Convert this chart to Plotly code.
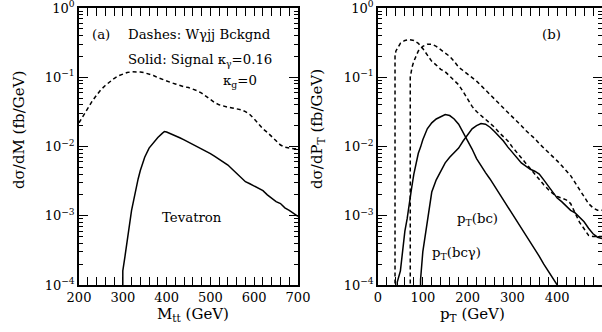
import plotly.graph_objects as go

# ---------------- data ----------------
# Panel (a): invariant mass M_tt (GeV)
m_bkg_x = [200, 210, 220, 230, 240, 250, 260, 270, 280, 290, 300, 310, 320, 330, 340, 350,
           360, 370, 380, 390, 400, 410, 420, 430, 440, 450, 460, 470, 480, 490, 500, 510,
           520, 530, 540, 550, 560, 570, 580, 590, 600, 610, 620, 630, 640, 650, 660, 670,
           680, 690, 700]
m_bkg = [0.022, 0.028, 0.036, 0.045, 0.055, 0.066, 0.076, 0.086, 0.096, 0.105, 0.112, 0.117,
         0.120, 0.121, 0.119, 0.116, 0.112, 0.106, 0.099, 0.093, 0.088, 0.084, 0.080, 0.076,
         0.073, 0.071, 0.068, 0.064, 0.059, 0.053, 0.048, 0.043, 0.040, 0.038, 0.037, 0.036,
         0.035, 0.034, 0.032, 0.029, 0.025, 0.021, 0.018, 0.016, 0.014, 0.012, 0.0105, 0.0098,
         0.0095, 0.0093, 0.0093]

m_sig_x = [300, 300, 305, 310, 315, 320, 325, 330, 335, 340, 345, 350, 360, 370, 380, 390, 395,
           400, 410, 420, 430, 440, 450, 460, 470, 480, 490, 500, 510, 520, 530, 540, 550, 560,
           570, 580, 590, 600, 610, 620, 630, 640, 650, 660, 670, 680, 690, 700]
m_sig = [1e-6, 1.6e-4, 2.6e-4, 4.5e-4, 7e-4, 1.2e-3, 1.7e-3, 2.5e-3, 3.4e-3, 4.5e-3, 5.7e-3,
         7.0e-3, 9.5e-3, 0.0115, 0.0135, 0.0155, 0.0165, 0.0162, 0.0153, 0.0144, 0.0134,
         0.0125, 0.0116, 0.0107, 0.0100, 0.0093, 0.0086, 0.0079, 0.0072, 0.0066, 0.0060,
         0.0054, 0.0047, 0.0041, 0.0035, 0.0031, 0.0029, 0.0027, 0.0025, 0.0023, 0.0020,
         0.0018, 0.0016, 0.0015, 0.0013, 0.0012, 0.00108, 0.00098]

# Panel (b): transverse momentum p_T (GeV)
pt_bkg1_x = [38, 38, 40, 45, 50, 60, 70, 80, 90, 100, 110, 120, 130, 140, 150, 160, 170, 180,
             190, 200, 210, 220, 230, 240, 250, 260, 270, 280, 290, 300, 310, 320, 330, 340,
             350, 360, 370, 380, 390, 400, 410, 420, 430, 440, 450, 460, 470, 480, 490, 500]
pt_bkg1 = [1e-6, 0.20, 0.24, 0.28, 0.31, 0.34, 0.35, 0.34, 0.31, 0.26, 0.21, 0.17, 0.15, 0.13,
           0.12, 0.105, 0.090, 0.078, 0.062, 0.048, 0.038, 0.032, 0.028, 0.025, 0.022, 0.019,
           0.016, 0.014, 0.012, 0.0098, 0.0082, 0.0068, 0.0056, 0.0047, 0.0040, 0.0033,
           0.0028, 0.0024, 0.0021, 0.0019, 0.0018, 0.0017, 0.0015, 0.0011, 0.0008, 0.00065,
           0.00052, 0.0005, 0.0005, 0.0005]

pt_bkg2_x = [72, 72, 76, 80, 90, 100, 110, 120, 130, 140, 150, 160, 170, 180, 190, 200, 210,
             220, 230, 240, 250, 260, 270, 280, 290, 300, 310, 320, 330, 340, 350, 360, 370,
             380, 390, 400, 410, 420, 430, 440, 450, 460, 470, 480, 490, 500]
pt_bkg2 = [1e-6, 0.10, 0.14, 0.17, 0.24, 0.28, 0.30, 0.30, 0.28, 0.25, 0.23, 0.20, 0.17, 0.14,
           0.125, 0.112, 0.10, 0.088, 0.076, 0.065, 0.056, 0.048, 0.042, 0.036, 0.031, 0.027,
           0.023, 0.020, 0.017, 0.015, 0.013, 0.011, 0.0096, 0.0083, 0.0072, 0.0062, 0.0053,
           0.0045, 0.0038, 0.0030, 0.0024, 0.0019, 0.0015, 0.0013, 0.0012, 0.0012]

pt_bc_x = [43, 43, 50, 55, 60, 65, 70, 75, 80, 85, 90, 95, 100, 110, 120, 130, 140, 150, 160,
           170, 180, 190, 200, 210, 220, 230, 240, 250, 260, 270, 280, 290, 300, 310, 320,
           330, 340, 350, 360, 370, 380, 390, 400]
pt_bc = [1e-6, 1.1e-4, 1.6e-4, 3e-4, 6e-4, 9e-4, 1.6e-3, 2.5e-3, 4e-3, 5.5e-3, 8e-3, 0.0098,
         0.0125, 0.018, 0.022, 0.025, 0.027, 0.029, 0.028, 0.025, 0.021, 0.016, 0.012, 0.0092,
         0.0067, 0.0052, 0.0042, 0.0034, 0.0027, 0.0021, 0.0017, 0.0013, 0.00105, 0.00083,
         0.00066, 0.00052, 0.00042, 0.00033, 0.00026, 0.00020, 0.00016, 0.000125, 1e-4]

pt_bcg_x = [95, 95, 100, 105, 110, 115, 120, 130, 140, 150, 160, 170, 180, 190, 200, 210, 220,
            230, 240, 250, 260, 270, 280, 290, 300, 310, 320, 330, 340, 350, 360, 370, 380,
            390, 400, 410, 420, 430, 440, 450, 460, 470, 480, 490, 500]
pt_bcg = [1e-6, 1.2e-4, 3e-4, 5e-4, 8e-4, 1.4e-3, 2.2e-3, 3.3e-3, 4.5e-3, 5.8e-3, 7e-3, 8.3e-3,
          0.0095, 0.012, 0.015, 0.018, 0.020, 0.0215, 0.021, 0.019, 0.0165, 0.014, 0.012,
          0.0098, 0.0082, 0.0070, 0.0058, 0.0052, 0.0047, 0.0044, 0.0040, 0.0033, 0.0027,
          0.0022, 0.0018, 0.0016, 0.0014, 0.0012, 0.0011, 0.00095, 0.00082, 0.00066, 0.00055,
          0.00049, 0.00047]

ytick_vals = [1e-4, 1e-3, 1e-2, 1e-1, 1]
ytick_text = ["10<sup>\u22124</sup>", "10<sup>\u22123</sup>", "10<sup>\u22122</sup>",
              "10<sup>\u22121</sup>", "10<sup>0</sup>"]
minor_log = [m * 10 ** e for e in range(-4, 0) for m in range(2, 10)]

# ---------------- figure ----------------
W, H = 602, 332
FONT = "DejaVu Serif"
fig = go.Figure()

dash_style = dict(color="black", width=1.5, dash="4px,3px")
solid_style = dict(color="black", width=1.5)

fig.add_trace(go.Scatter(x=m_bkg_x, y=m_bkg, mode="lines", line=dash_style, xaxis="x", yaxis="y"))
fig.add_trace(go.Scatter(x=m_sig_x, y=m_sig, mode="lines", line=solid_style, xaxis="x", yaxis="y"))
fig.add_trace(go.Scatter(x=pt_bkg1_x, y=pt_bkg1, mode="lines", line=dash_style, xaxis="x2", yaxis="y2"))
fig.add_trace(go.Scatter(x=pt_bkg2_x, y=pt_bkg2, mode="lines", line=dash_style, xaxis="x2", yaxis="y2"))
fig.add_trace(go.Scatter(x=pt_bc_x, y=pt_bc, mode="lines", line=solid_style, xaxis="x2", yaxis="y2"))
fig.add_trace(go.Scatter(x=pt_bcg_x, y=pt_bcg, mode="lines", line=solid_style, xaxis="x2", yaxis="y2"))
# invisible carriers for the minor-tick overlay axes
fig.add_trace(go.Scatter(x=m_bkg_x, y=m_bkg, mode="lines", line=dict(color="rgba(0,0,0,0)"),
                         xaxis="x", yaxis="y3", hoverinfo="skip"))
fig.add_trace(go.Scatter(x=pt_bkg1_x, y=pt_bkg1, mode="lines", line=dict(color="rgba(0,0,0,0)"),
                         xaxis="x2", yaxis="y4", hoverinfo="skip"))


def px(x):
    return x / W


def py(y):
    return 1 - y / H


YR = [-4, 0.0005]
common_x = dict(showline=True, linecolor="black", linewidth=1.5, mirror="allticks",
                ticks="inside", ticklen=8, tickwidth=1.3, tickcolor="black",
                showgrid=False, zeroline=False, ticklabeloverflow="allow", automargin=False,
                tickfont=dict(family=FONT, size=13, color="black"),
                minor=dict(ticks="inside", ticklen=4, tickwidth=1, tickcolor="black",
                           dtick=20, showgrid=False))
common_y = dict(type="log", range=YR, showline=True, linecolor="black", linewidth=1.5,
                mirror="allticks", ticks="inside", ticklen=9, tickwidth=1.3,
                tickcolor="black", showgrid=False, zeroline=False,
                tickmode="array", tickvals=ytick_vals, ticktext=ytick_text,
                ticklabeloverflow="allow", automargin=False,
                tickfont=dict(family=FONT, size=13, color="black"))
minor_y = dict(type="log", range=YR, showline=False, mirror="allticks", ticks="inside",
               ticklen=4, tickwidth=1, tickcolor="black", showgrid=False, zeroline=False,
               tickmode="array", tickvals=minor_log, showticklabels=False, automargin=False)

yd = [py(285), py(8)]
fig.update_layout(
    width=W, height=H, margin=dict(l=0, r=0, t=0, b=0, autoexpand=False),
    paper_bgcolor="white", plot_bgcolor="white", showlegend=False,
    xaxis=dict(domain=[px(79), px(298)], range=[200, 700], anchor="y",
               tickvals=[200, 300, 400, 500, 600, 700], **common_x),
    yaxis=dict(domain=yd, anchor="x", **common_y),
    yaxis3=dict(domain=yd, anchor="x", overlaying="y", **minor_y),
    xaxis2=dict(domain=[px(378), 1.0], range=[0, 500], anchor="y2",
                tickvals=[0, 100, 200, 300, 400], **common_x),
    yaxis2=dict(domain=yd, anchor="x2", **common_y),
    yaxis4=dict(domain=yd, anchor="x2", overlaying="y2", **minor_y),
)

f13 = dict(family=FONT, size=13.3, color="black")
f15 = dict(family=FONT, size=15, color="black")
ann = [
    dict(x=px(193), y=py(314), text="M<sub>tt</sub> (GeV)", font=f15, xanchor="center", yanchor="middle"),
    dict(x=px(472), y=py(314), text="p<sub>T</sub> (GeV)", font=f15, xanchor="center", yanchor="middle"),
    dict(x=px(19), y=py(130), text="d\u03c3/dM (fb/GeV)", font=f15, textangle=-90, xanchor="center", yanchor="middle"),
    dict(x=px(318), y=py(129), text="d\u03c3/dP<sub>T</sub> (fb/GeV)", font=f15, textangle=-90, xanchor="center", yanchor="middle"),
    dict(x=px(90), y=py(35), text="(a)", font=f13, xanchor="left", yanchor="middle"),
    dict(x=px(126), y=py(35), text="Dashes: W\u03b3jj Bckgnd", font=f13, xanchor="left", yanchor="middle"),
    dict(x=px(126), y=py(60), text="Solid: Signal \u03ba<sub>\u03b3</sub>=0.16", font=f13, xanchor="left", yanchor="middle"),
    dict(x=px(221), y=py(81), text="\u03ba<sub>g</sub>=0", font=f13, xanchor="left", yanchor="middle"),
    dict(x=px(160), y=py(217), text="Tevatron", font=f13, xanchor="left", yanchor="middle"),
    dict(x=px(540), y=py(35), text="(b)", font=f13, xanchor="left", yanchor="middle"),
    dict(x=px(455), y=py(219), text="p<sub>T</sub>(bc)", font=f13, xanchor="left", yanchor="middle"),
    dict(x=px(430), y=py(253), text="p<sub>T</sub>(bc\u03b3)", font=f13, xanchor="left", yanchor="middle"),
]
for a in ann:
    a.update(xref="paper", yref="paper", showarrow=False)
fig.update_layout(annotations=ann)

fig.write_html("out.html")
